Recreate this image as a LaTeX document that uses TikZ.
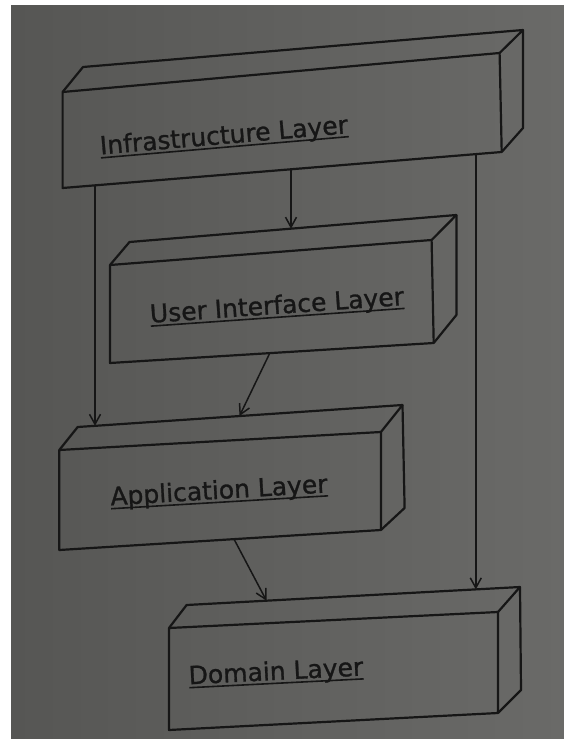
\documentclass[tikz,border=0pt]{standalone}
\usepackage{fontspec}
\newfontfamily\lblfont{DejaVu Sans}[FakeBold=1.1]
\usetikzlibrary{arrows.meta}
\definecolor{ink}{RGB}{22,22,22}
\definecolor{bgL}{RGB}{86,86,84}
\definecolor{bgR}{RGB}{106,106,104}
\newcommand{\ulin}[1]{\leavevmode\setbox0=\hbox{#1}\rlap{\vrule height -2.6pt depth 4.2pt width \wd0}\box0}
\tikzset{
  edge/.style={draw=ink, line width=2.2pt, line join=round},
  dep/.style={draw=ink, line width=1.5pt, -{Straight Barb[length=10pt,width=11pt]}},
  lbl/.style={text=ink, font=\lblfont\fontsize{25}{29}\selectfont, inner sep=0pt},
}
\begin{document}
\begin{tikzpicture}[x=1pt,y=-1pt]
\useasboundingbox (0,0) rectangle (564,739);
\fill[white] (0,0) rectangle (564,739);
\shade[left color=bgL, right color=bgR] (11,5) rectangle (564,739);

% Infrastructure box
\coordinate (i-ftl) at (62.6,92);
\coordinate (i-ftr) at (499.6,53);
\coordinate (i-fbr) at (501.7,152);
\coordinate (i-fbl) at (62.6,188);
\coordinate (i-btl) at (83,67);
\coordinate (i-btr) at (523,30);
\coordinate (i-bbr) at (523,128);
% User interface box
\coordinate (u-ftl) at (110,265);
\coordinate (u-ftr) at (431.6,240);
\coordinate (u-fbr) at (433.7,343);
\coordinate (u-fbl) at (110,363);
\coordinate (u-btl) at (129.5,242);
\coordinate (u-btr) at (456.4,215);
\coordinate (u-bbr) at (456.4,315);
% Application box
\coordinate (a-ftl) at (59.3,450);
\coordinate (a-ftr) at (380.9,432);
\coordinate (a-fbr) at (380.9,530);
\coordinate (a-fbl) at (59.3,550);
\coordinate (a-btl) at (77.7,427);
\coordinate (a-btr) at (402.5,405);
\coordinate (a-bbr) at (404.6,508);
% Domain box
\coordinate (d-ftl) at (169,628);
\coordinate (d-ftr) at (498,612);
\coordinate (d-fbr) at (498,713);
\coordinate (d-fbl) at (169,730);
\coordinate (d-btl) at (186.6,605);
\coordinate (d-btr) at (520,587);
\coordinate (d-bbr) at (521,690);

\foreach \b in {i,u,a,d}{
  \draw[edge] (\b-ftl) -- (\b-ftr) -- (\b-fbr) -- (\b-fbl) -- cycle;
  \draw[edge] (\b-ftl) -- (\b-btl) -- (\b-btr) -- (\b-ftr);
  \draw[edge] (\b-btr) -- (\b-bbr) -- (\b-fbr);
}

\node[lbl, rotate=4.9] (infra) at (224,137) {\ulin{Infrastructure Layer}};
\node[lbl, rotate=4.0] (ui) at (277,307) {\ulin{User Interface Layer}};
\node[lbl, rotate=3.4] (app) at (219,492) {\ulin{Application Layer}};
\node[lbl, rotate=2.9] (dom) at (276,673) {\ulin{Domain Layer}};

% connector end points on the box edges
\coordinate (p1s) at (291,169.3);
\coordinate (p1e) at (291,228.7);
\coordinate (p2s) at (95,185.3);
\coordinate (p2e) at (95,425.8);
\coordinate (p3s) at (475.8,154.1);
\coordinate (p3e) at (475.8,589.4);
\coordinate (p4s) at (269.8,353.1);
\coordinate (p4e) at (239.5,416);
\coordinate (p5s) at (234,539.1);
\coordinate (p5e) at (266.5,600.7);

\draw[dep] (p1s) -- (p1e);
\draw[dep] (p2s) -- (p2e);
\draw[dep] (p3s) -- (p3e);
\draw[dep] (p4s) -- (p4e);
\draw[dep] (p5s) -- (p5e);
\end{tikzpicture}
\end{document}
